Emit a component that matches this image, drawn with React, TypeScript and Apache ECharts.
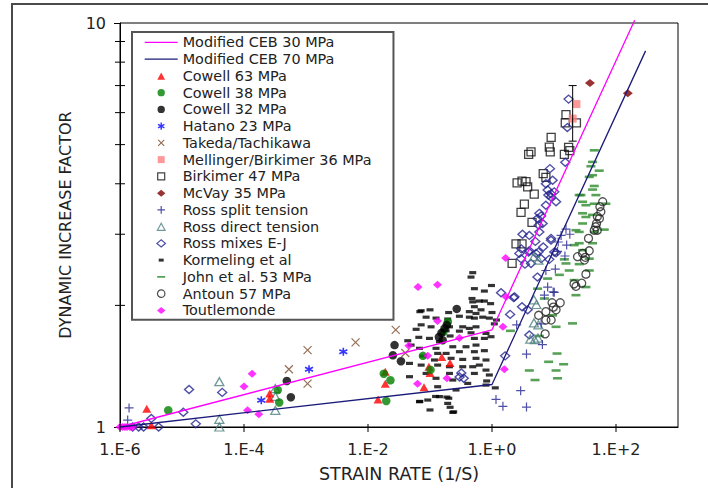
import React, { useEffect, useRef } from 'react';
import * as echarts from 'echarts';

const FONT = '"DejaVu Sans", "Liberation Sans", sans-serif';

// axis tick values
const xTickValues = [1e-6, 1e-4, 1e-2, 1, 100];
const yMinorTickValues = [2, 3, 4, 5, 6, 7, 8, 9];

// model lines
const ceb30 = [[1e-6, 1], [1, 1.74], [200, 10.16]];
const ceb70 = [[1e-6, 1], [1, 1.274], [300, 8.53]];

// data series
const cowell63 = [[2.7e-6, 1.11], [3.2e-6, 1.01], [2.6e-4, 1.21], [2.6e-4, 1.175], [0.0145, 1.17], [0.019, 1.37], [0.019, 1.28], [0.08, 1.255], [0.096, 1.41], [0.1, 1.36], [0.155, 1.49], [0.21, 1.44]];
const cowell38 = [[6e-6, 1.1], [3.5e-4, 1.235], [3.7e-4, 1.15], [0.018, 1.355], [0.023, 1.305], [0.0197, 1.16], [0.077, 1.5], [0.102, 1.385], [0.194, 1.82], [0.165, 1.72]];
const cowell32 = [[4.9e-4, 1.3], [5.7e-4, 1.185], [0.0268, 1.595], [0.0252, 1.505], [0.034, 1.455], [0.27, 1.96], [0.172, 1.755], [0.153, 1.71], [0.139, 1.67], [0.187, 1.79], [0.16, 1.64]];
const hatano = [[1.9e-4, 1.165], [1.12e-3, 1.39], [4e-3, 1.535]];
const takeda = [[5.3e-4, 1.39], [1.06e-3, 1.55], [1.06e-3, 1.28], [6.3e-3, 1.62], [0.028, 1.74], [0.04, 1.525]];
const mellinger = [[23, 6.3], [20, 5.8]];
const mellingerErr = [[20, 5.1, 7.0]];
const birkimer = [[15.6, 5.93], [15.2, 5.66], [23, 5.66], [9, 5.21], [8.4, 4.93], [17.2, 4.92], [3.9, 4.73], [4.26, 4.8], [8.7, 4.8], [14.7, 4.73], [18, 4.83], [6.7, 4.24], [7.4, 4.15], [2.54, 4.02], [3.05, 4.06], [3.54, 4.05], [3.76, 3.93], [4.8, 3.77], [3.33, 3.56], [2.94, 3.4], [4.42, 3.21], [2.44, 2.84], [3.05, 2.84], [2.11, 2.54]];
const mcvay = [[38, 7.1], [155, 6.7]];
const rossSplit = [[1.4e-6, 1.115], [1.33e-6, 1.04], [1.16, 1.17], [1.5, 1.125], [2.9, 1.23], [3.6, 1.12], [3.6, 1.515], [6.5, 1.6], [2.5, 1.79], [6.2, 1.8], [7.0, 2.12], [9.7, 2.16], [7.9, 2.22], [7.4, 2.44], [10.5, 2.46], [15, 2.65], [11.4, 2.72], [11.7, 2.87], [16, 2.82], [13, 2.98], [15.6, 3.09], [18, 3.0], [10.1, 2.155]];
const rossDirect = [[4e-5, 1.295], [4e-5, 1.045], [4e-5, 1.0], [3.2e-4, 1.245], [3.2e-4, 1.19], [3.2e-4, 1.1], [4.75, 2.64], [5.6, 2.59], [4.75, 2.065], [5.2, 2.01], [4.75, 1.81], [5.6, 1.79], [4.15, 1.65], [4.9, 1.645], [5.5, 1.66]];
const rossMixes = [[1.6e-6, 1], [2.0e-6, 1], [2.4e-6, 1], [4.2e-6, 1], [3.2e-6, 1.05], [1.05e-5, 1.088], [1.3e-5, 1.238], [1.67e-5, 1.018], [4.45e-5, 1.218], [0.32, 1.36], [0.35, 1.32], [0.3, 1.33], [1.63, 1.5], [1.4, 2.15], [2.24, 2.09], [1.96, 1.9], [3.05, 1.985], [2.97, 2.76], [4.0, 2.73], [3.4, 2.53], [5.8, 3.04], [8.95, 2.93], [6.7, 2.79], [10.8, 2.7], [5.13, 2.69], [7.4, 4.0], [8.95, 3.78], [8.1, 3.75], [10.8, 3.61], [7.4, 3.54], [5.8, 3.38], [6.2, 3.33], [5.4, 3.28], [6.55, 3.19], [5.65, 3.16], [4.0, 2.98], [3.1, 3.0], [5.0, 2.88], [8.95, 2.9], [10.1, 2.71], [5.6, 2.71], [3.9, 2.71], [2.76, 2.69], [2.94, 2.61], [4.26, 2.54], [6.2, 2.61], [8.4, 2.6], [5.4, 2.35], [2.3, 2.1], [3.76, 1.95], [4.0, 1.69], [17.2, 6.48], [16.4, 5.51], [15.2, 4.52], [8.6, 4.36], [9.5, 4.08], [7.9, 3.86], [10.1, 3.82], [8.95, 3.71]];
const kormeling = [[0.489, 2.41], [0.459, 2.35], [0.52, 2.2], [0.753, 2.17], [0.98, 2.24], [0.476, 2.08], [0.625, 2.05], [0.489, 2.04], [0.753, 2.05], [0.95, 2.02], [0.52, 1.985], [0.665, 1.95], [0.431, 1.93], [0.552, 1.91], [1.0, 1.92], [0.072, 1.94], [0.1, 1.95], [0.2, 1.92], [0.0865, 1.87], [0.125, 1.86], [0.193, 1.85], [0.298, 1.88], [0.431, 1.87], [0.52, 1.86], [0.708, 1.87], [0.906, 1.86], [1.09, 1.8], [0.072, 1.79], [0.104, 1.77], [0.206, 1.77], [0.337, 1.77], [0.431, 1.754], [0.552, 1.77], [0.0597, 1.745], [0.182, 1.73], [0.298, 1.727], [0.459, 1.711], [0.8, 1.705], [0.964, 1.673], [0.0438, 1.635], [0.066, 1.667], [0.098, 1.657], [0.142, 1.626], [0.211, 1.68], [0.52, 1.657], [0.753, 1.657], [0.0496, 1.595], [0.0676, 1.566], [0.125, 1.566], [0.233, 1.58], [0.381, 1.58], [0.552, 1.595], [0.0765, 1.498], [0.133, 1.521], [0.182, 1.521], [0.298, 1.536], [0.52, 1.536], [0.753, 1.545], [0.118, 1.465], [0.219, 1.479], [0.337, 1.47], [0.552, 1.479], [0.8, 1.465], [0.0467, 1.437], [0.072, 1.423], [0.133, 1.423], [0.206, 1.41], [0.337, 1.41], [0.489, 1.41], [0.625, 1.423], [0.8, 1.383], [0.0865, 1.357], [0.206, 1.357], [0.52, 1.357], [0.906, 1.345], [0.0467, 1.332], [0.125, 1.32], [0.233, 1.307], [0.406, 1.282], [0.8, 1.27], [0.133, 1.258], [0.263, 1.235], [0.0676, 1.155], [0.142, 1.189], [0.193, 1.144], [0.092, 1.166], [0.1, 1.102], [0.233, 1.087], [0.0686, 1.93], [0.123, 1.19], [0.187, 1.186], [0.241, 1.09], [0.0686, 1.157], [1.18, 1.84], [0.82, 1.3], [0.201, 1.178], [0.211, 1.119], [1.13, 1.25]];
const john = [[44.6, 4.84], [41.9, 4.53], [39.4, 4.42], [53.6, 4.31], [41.9, 4.2], [37, 4.16], [44.6, 3.95], [41.9, 3.87], [47.4, 3.75], [27.2, 3.75], [25.5, 3.75], [28.9, 3.61], [44.6, 3.57], [32.7, 3.54], [68.7, 3.57], [28.9, 3.38], [41.9, 3.35], [32.7, 3.31], [28.9, 3.19], [25.5, 3.04], [22.6, 3.07], [44.6, 3.04], [64.6, 3.08], [21.2, 2.82], [25.5, 2.85], [41.9, 2.85], [28.9, 2.74], [37, 2.61], [14.7, 2.6], [15.6, 2.54], [25.5, 2.53], [12.2, 2.38], [17.6, 2.44], [37, 2.44], [21.2, 2.31], [7.9, 2.33], [32.7, 2.22], [22.6, 2.12], [5.44, 2.2], [7.0, 2.08], [9.5, 1.89], [19.9, 1.805], [10.8, 1.77], [5.8, 1.68], [11.2, 1.52], [8.2, 1.45], [14.3, 1.43], [4.0, 1.38], [10.8, 1.38], [4.94, 1.307], [11.4, 1.32], [1.98, 1.73]];
const antoun = [[61, 3.61], [55, 3.51], [57, 3.41], [50, 3.32], [54, 3.28], [48.5, 3.19], [47, 3.13], [50, 3.07], [44.6, 3.07], [36, 2.93], [37, 2.73], [29, 2.69], [24, 2.64], [31, 2.59], [32, 2.63], [32.7, 2.39], [28, 2.27], [21, 2.26], [22.6, 2.23], [12.6, 2.03], [9.75, 1.98], [9.3, 2.03], [10.8, 1.95], [7.4, 1.93], [5.65, 1.89], [7.4, 1.84], [9, 1.84], [7.2, 1.7]];
const toutlemonde = [[1e-6, 1], [1.1e-6, 1], [1.2e-6, 1], [1.3e-6, 1], [1.45e-6, 1], [1.6e-6, 1], [1e-4, 1.26], [1.35e-4, 1.355], [1.14e-4, 1.1], [1.73e-4, 1.075], [0.064, 2.22], [0.132, 2.25], [0.132, 1.83], [0.298, 1.66], [0.0455, 1.59], [0.092, 1.5], [0.063, 1.28], [0.188, 1.32], [1.66, 2.62], [1.68, 2.1], [1.5, 1.77], [1.58, 1.39]];

const NAVY = '#23238e';
// plot symbols
const PLUS = 'path://M5,0V10M0,5H10';
const CROSS = 'path://M0,0L10,10M0,10L10,0';
const STAR = 'path://M5,0V10M0.7,2.5L9.3,7.5M0.7,7.5L9.3,2.5';
// legend icons drawn in a 33x8 frame
const LI = (d: string) => 'path://M0,0M33,8' + d;
const IC_LINE = LI('M0,3.4h33v1.3h-33z');
const IC_TRI = LI('M12.6,7.8L16.5,0.6L20.4,7.8Z');
const IC_CIRC = LI('M12.8,4a3.7,3.7 0 1,0 7.4,0a3.7,3.7 0 1,0 -7.4,0Z');
const IC_STAR = LI('M16.5,0.4V7.6M13.3,2.2L19.7,5.8M13.3,5.8L19.7,2.2');
const IC_X = LI('M13.5,1L19.5,7M13.5,7L19.5,1');
const IC_SQ = LI('M13,0.5h7v7h-7z');
const IC_DIA = LI('M12.3,4L16.5,0.5L20.7,4L16.5,7.5Z');
const IC_PLUS = LI('M16.5,0.2V7.8M12.7,4H20.3');
const IC_KORM = LI('M14,2.5h5v3h-5z');
const IC_JOHN = LI('M12.5,3.1h8v1.8h-8z');

function filled(name: string, data: number[][], symbol: string, size: any, color: string) {
  return { type: 'scatter', name, data, symbol, symbolSize: size, itemStyle: { color }, clip: false, silent: true, z: 2 };
}
function stroked(name: string, data: number[][], symbol: string, size: any, color: string, w = 1.2) {
  return { type: 'scatter', name, data, symbol, symbolSize: size, itemStyle: { color: 'transparent', borderColor: color, borderWidth: w }, clip: false, silent: true, z: 2 };
}

const xLabel = (v: number) => {
  const e = Math.round(Math.log10(v));
  if (e % 2 !== 0) return '';
  return '1.E' + (e >= 0 ? '+' : '') + e;
};

const option: any = {
  animation: false,
  backgroundColor: '#fff',
  textStyle: { fontFamily: FONT },
  graphic: [
    { type: 'rect', shape: { x: 12, y: 4, width: 760, height: 560 }, style: { fill: 'none', stroke: '#4a4a4a', lineWidth: 2 }, silent: true, z: -10 },
  ],
  grid: { left: 120, right: 30, top: 23, bottom: 61, show: true, borderColor: '#000', borderWidth: 1 },
  xAxis: {
    type: 'log', logBase: 10, min: 1e-6, max: 1000,
    axisLine: { lineStyle: { color: '#000', width: 1 } },
    axisTick: { show: false }, splitLine: { show: false },
    axisLabel: { formatter: xLabel, fontSize: 16, color: '#222', margin: 14, fontFamily: FONT, showMinLabel: true, showMaxLabel: true },
    name: 'STRAIN RATE (1/S)', nameLocation: 'middle', nameGap: 38,
    nameTextStyle: { fontSize: 17.5, color: '#222', fontFamily: FONT },
  },
  yAxis: {
    type: 'log', logBase: 10, min: 1, max: 10,
    axisLine: { lineStyle: { color: '#000', width: 1 } },
    axisTick: { length: 6, lineStyle: { color: '#000' } }, splitLine: { show: false },
    axisLabel: { fontSize: 16, color: '#222', margin: 14, fontFamily: FONT },
    name: 'DYNAMIC INCREASE FACTOR', nameLocation: 'middle', nameGap: 47, nameRotate: 90,
    nameTextStyle: { fontSize: 16, color: '#222', fontFamily: FONT },
  },
  legend: {
    orient: 'vertical', left: 132, top: 32, padding: [2, 22, 1, 12], itemGap: 0,
    itemWidth: 33, itemHeight: 8, borderColor: '#555', borderWidth: 2, backgroundColor: '#fff',
    selectedMode: false,
    textStyle: { fontSize: 14.4, lineHeight: 16.75, color: '#222', fontFamily: FONT },
    data: [
      { name: 'Modified CEB 30 MPa', icon: IC_LINE },
      { name: 'Modified CEB 70 MPa', icon: IC_LINE },
      { name: 'Cowell 63 MPa', icon: IC_TRI },
      { name: 'Cowell 38 MPa', icon: IC_CIRC },
      { name: 'Cowell 32 MPa', icon: IC_CIRC },
      { name: 'Hatano 23 MPa', icon: IC_STAR, itemStyle: { borderWidth: 1.4 } },
      { name: 'Takeda/Tachikawa', icon: IC_X, itemStyle: { borderWidth: 1.2 } },
      { name: 'Mellinger/Birkimer 36 MPa', icon: IC_SQ },
      { name: 'Birkimer 47 MPa', icon: IC_SQ, itemStyle: { borderWidth: 1.2 } },
      { name: 'McVay 35 MPa', icon: IC_DIA },
      { name: 'Ross split tension', icon: IC_PLUS, itemStyle: { borderWidth: 1.2 } },
      { name: 'Ross direct tension', icon: IC_TRI, itemStyle: { borderWidth: 1.2 } },
      { name: 'Ross mixes E-J', icon: IC_DIA, itemStyle: { borderWidth: 1.3 } },
      { name: 'Kormeling et al', icon: IC_KORM },
      { name: 'John et al. 53 MPa', icon: IC_JOHN },
      { name: 'Antoun 57 MPa', icon: IC_CIRC, itemStyle: { borderWidth: 1.2 } },
      { name: 'Toutlemonde', icon: IC_DIA },
    ],
  },
  series: [
    filled('Kormeling et al', kormeling, 'rect', [7, 3.2], '#000'),
    filled('John et al. 53 MPa', john, 'rect', [9, 2.6], '#2e8b2e'),
    stroked('Antoun 57 MPa', antoun, 'circle', 8, '#222', 1.3),
    stroked('Birkimer 47 MPa', birkimer, 'rect', 8, '#111', 1.3),
    stroked('Ross mixes E-J', rossMixes, 'diamond', [9, 8], NAVY, 1.4),
    stroked('Ross direct tension', rossDirect, 'triangle', [9, 8], '#4f8080', 1.3),
    stroked('Ross split tension', rossSplit, PLUS, 9, NAVY, 1.2),
    filled('Cowell 63 MPa', cowell63, 'triangle', [9, 8], '#ff0000'),
    filled('Cowell 38 MPa', cowell38, 'circle', 8.5, '#008000'),
    filled('Cowell 32 MPa', cowell32, 'circle', 8.5, '#000'),
    stroked('Hatano 23 MPa', hatano, STAR, 8, '#0000ff', 1.6),
    stroked('Takeda/Tachikawa', takeda, CROSS, 8, '#7a4a2a', 1.2),
    filled('Mellinger/Birkimer 36 MPa', mellinger, 'rect', 8, '#ff8080'),
    filled('McVay 35 MPa', mcvay, 'diamond', [10, 8], '#800000'),
    filled('Toutlemonde', toutlemonde, 'diamond', [9, 8], '#ff00ff'),
    {
      type: 'line', name: 'Modified CEB 30 MPa', data: ceb30, symbol: 'none', clip: false, silent: true, z: 3,
      lineStyle: { color: '#ff00ff', width: 1.3 }, itemStyle: { color: '#ff00ff' },
    },
    {
      type: 'line', name: 'Modified CEB 70 MPa', data: ceb70, symbol: 'none', clip: false, silent: true, z: 3,
      lineStyle: { color: '#1a1a7a', width: 1.3 }, itemStyle: { color: '#1a1a7a' },
    },
    {
      type: 'custom', name: 'errbar', data: mellingerErr, silent: true, z: 4,
      encode: { x: 0, y: [1, 2] },
      renderItem: (_p: any, api: any) => {
        const x = api.value(0);
        const lo = api.coord([x, api.value(1)]);
        const hi = api.coord([x, api.value(2)]);
        const st = { stroke: '#000', lineWidth: 1 };
        return {
          type: 'group', children: [
            { type: 'line', shape: { x1: lo[0], y1: lo[1], x2: hi[0], y2: hi[1] }, style: st },
            { type: 'line', shape: { x1: lo[0] - 4, y1: lo[1], x2: lo[0] + 4, y2: lo[1] }, style: st },
            { type: 'line', shape: { x1: hi[0] - 4, y1: hi[1], x2: hi[0] + 4, y2: hi[1] }, style: st },
          ],
        };
      },
    },
    {
      type: 'custom', name: 'xticks', data: xTickValues.map((v) => [v, 1]), silent: true, z: 5,
      renderItem: (_p: any, api: any) => {
        const c = api.coord([api.value(0), api.value(1)]);
        return { type: 'line', shape: { x1: c[0], y1: c[1] - 3, x2: c[0], y2: c[1] + 5 }, style: { stroke: '#000', lineWidth: 1 } };
      },
    },
    {
      type: 'custom', name: 'yminor', data: yMinorTickValues.map((v) => [1e-6, v]), silent: true, z: 5,
      renderItem: (_p: any, api: any) => {
        const c = api.coord([api.value(0), api.value(1)]);
        return { type: 'line', shape: { x1: c[0] - 5, y1: c[1], x2: c[0] + 5, y2: c[1] }, style: { stroke: '#000', lineWidth: 1 } };
      },
    },
  ],
};

export default function App() {
  const ref = useRef<HTMLDivElement>(null);
  useEffect(() => {
    const chart = echarts.init(ref.current as HTMLDivElement, null, { renderer: 'svg' });
    chart.setOption(option);
    return () => chart.dispose();
  }, []);
  return <div ref={ref} style={{ position: 'fixed', left: 0, top: 0, width: 708, height: 488, background: '#fff' }} />;
}
